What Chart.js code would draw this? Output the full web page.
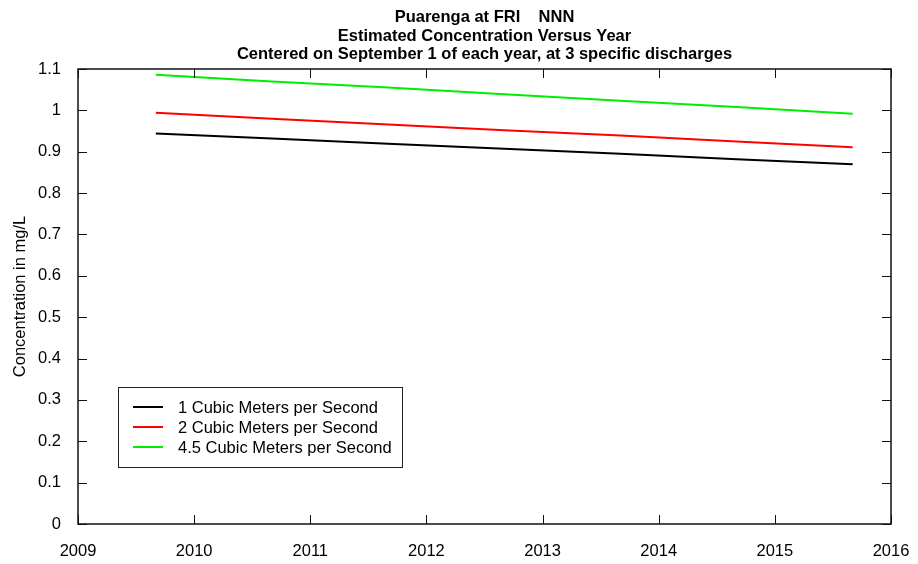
<!DOCTYPE html>
<html>
<head>
<meta charset="utf-8">
<title>Puarenga at FRI NNN</title>
<script src="https://cdn.jsdelivr.net/npm/chart.js@4/dist/chart.umd.min.js"></script>
<style>
  html, body { margin: 0; padding: 0; background: #fff; }
  #wrap { width: 918px; height: 564px; }
</style>
</head>
<body>
<div id="wrap"><canvas id="concChart" width="918" height="564"></canvas></div>
<script>
// Sample dates: September 1 of each year (decimal years)
const years = [2009.67, 2010.67, 2011.67, 2012.67, 2013.67, 2014.67, 2015.67];

// Estimated concentration (mg/L) at each discharge
const conc1 = [0.944, 0.932, 0.919, 0.907, 0.895, 0.882, 0.870];
const conc2 = [0.994, 0.980, 0.966, 0.952, 0.939, 0.925, 0.911];
const conc45 = [1.086, 1.070, 1.055, 1.039, 1.023, 1.008, 0.992];

const seriesLabels = [
  '1 Cubic Meters per Second',
  '2 Cubic Meters per Second',
  '4.5 Cubic Meters per Second'
];
const seriesColors = ['#000000', '#ff0000', '#00ee00'];

const titleLines = [
  'Puarenga at FRI    NNN',
  'Estimated Concentration Versus Year',
  'Centered on September 1 of each year, at 3 specific discharges'
];
const yAxisTitle = 'Concentration in mg/L';

const FONT = '"Liberation Sans", Arial, sans-serif';

function toPoints(values) {
  return years.map((yr, i) => ({ x: yr, y: values[i] }));
}

// Title centred over the plot area
const titlePlugin = {
  id: 'plotTitle',
  afterDraw(chart) {
    const { ctx, chartArea } = chart;
    const cx = (chartArea.left + chartArea.right) / 2;
    ctx.save();
    ctx.fillStyle = '#000';
    ctx.font = 'bold 16.5px ' + FONT;
    ctx.textAlign = 'center';
    ctx.textBaseline = 'middle';
    titleLines.forEach((line, i) => ctx.fillText(line, cx, 17.5 + i * 18.5));
    ctx.restore();
  }
};

// Box round the plot with inward ticks on all four sides
const frameTicksPlugin = {
  id: 'frameTicks',
  afterDatasetsDraw(chart) {
    const { ctx, chartArea: a, scales } = chart;
    const len = 9;
    ctx.save();
    ctx.strokeStyle = '#111';
    ctx.lineWidth = 1.5;
    ctx.strokeRect(a.left, a.top, a.right - a.left, a.bottom - a.top);
    ctx.lineWidth = 1;
    ctx.beginPath();
    scales.x.ticks.forEach(t => {
      const px = Math.round(scales.x.getPixelForValue(t.value)) + 0.5;
      ctx.moveTo(px, a.bottom); ctx.lineTo(px, a.bottom - len);
      ctx.moveTo(px, a.top); ctx.lineTo(px, a.top + len);
    });
    scales.y.ticks.forEach(t => {
      const py = Math.round(scales.y.getPixelForValue(t.value)) + 0.5;
      ctx.moveTo(a.left, py); ctx.lineTo(a.left + len, py);
      ctx.moveTo(a.right, py); ctx.lineTo(a.right - len, py);
    });
    ctx.stroke();
    ctx.restore();
  }
};

// Legend box inside the plot, lower left
const insideLegendPlugin = {
  id: 'insideLegend',
  afterDraw(chart) {
    const { ctx } = chart;
    const box = { x: 118.5, y: 387.5, w: 284, h: 80 };
    ctx.save();
    ctx.fillStyle = '#fff';
    ctx.fillRect(box.x, box.y, box.w, box.h);
    ctx.strokeStyle = '#222';
    ctx.lineWidth = 1;
    ctx.strokeRect(box.x, box.y, box.w, box.h);
    ctx.font = '16.5px ' + FONT;
    ctx.textBaseline = 'middle';
    ctx.textAlign = 'left';
    chart.data.datasets.forEach((ds, i) => {
      const y = 407 + i * 20;
      ctx.strokeStyle = ds.borderColor;
      ctx.lineWidth = 2;
      ctx.beginPath();
      ctx.moveTo(133, y);
      ctx.lineTo(163, y);
      ctx.stroke();
      ctx.fillStyle = '#000';
      ctx.fillText(ds.label, 178, y + 1);
    });
    ctx.restore();
  }
};

new Chart(document.getElementById('concChart'), {
  type: 'line',
  data: {
    datasets: [
      { label: seriesLabels[0], data: toPoints(conc1), borderColor: seriesColors[0] },
      { label: seriesLabels[1], data: toPoints(conc2), borderColor: seriesColors[1] },
      { label: seriesLabels[2], data: toPoints(conc45), borderColor: seriesColors[2] }
    ].map(ds => Object.assign(ds, { borderWidth: 2, pointRadius: 0, tension: 0, fill: false }))
  },
  options: {
    responsive: false,
    animation: false,
    layout: { padding: { top: 69, right: 0, bottom: 0, left: 0 } },
    plugins: {
      legend: { display: false },
      title: { display: false },
      tooltip: { enabled: false }
    },
    scales: {
      x: {
        type: 'linear',
        min: 2009,
        max: 2016,
        grid: { display: false, drawTicks: false },
        border: { display: false },
        ticks: {
          stepSize: 1,
          padding: 18,
          color: '#000',
          font: { family: FONT, size: 16.5 },
          maxRotation: 0,
          callback: v => String(v)
        },
        afterFit: scale => {
          scale.height = 40;
          scale.paddingRight = 27;
        }
      },
      y: {
        min: 0,
        max: 1.1,
        grid: { display: false, drawTicks: false },
        border: { display: false },
        ticks: {
          stepSize: 0.1,
          padding: 17,
          color: '#000',
          font: { family: FONT, size: 16.5 },
          callback: v => String(Math.round(v * 10) / 10)
        },
        title: {
          display: true,
          text: yAxisTitle,
          color: '#000',
          font: { family: FONT, size: 16.5 },
          padding: { top: 11, bottom: 0 }
        },
        afterFit: scale => { scale.width = 78; }
      }
    }
  },
  plugins: [titlePlugin, frameTicksPlugin, insideLegendPlugin]
});
</script>
</body>
</html>
